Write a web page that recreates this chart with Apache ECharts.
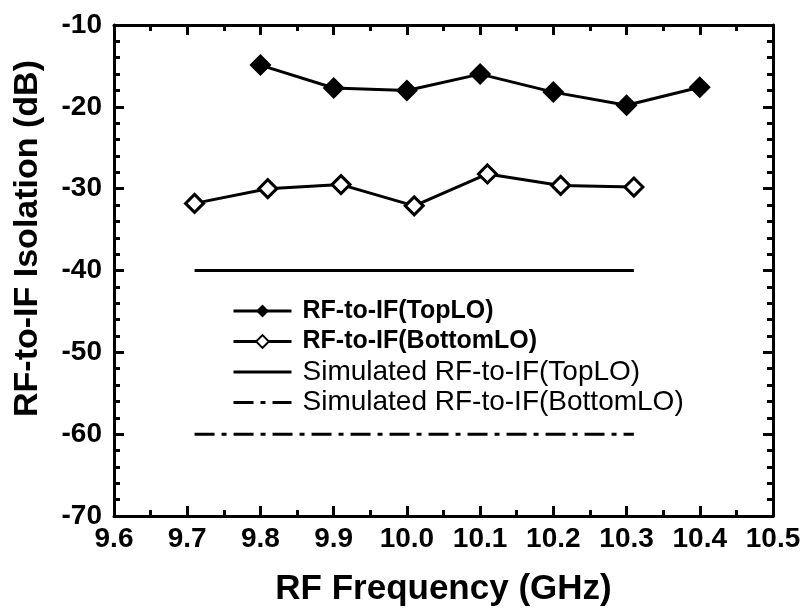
<!DOCTYPE html>
<html>
<head>
<meta charset="utf-8">
<script src="https://cdn.jsdelivr.net/npm/echarts@6/dist/echarts.min.js"></script>
<style>html,body{margin:0;padding:0;background:#fff}#c{width:805px;height:614px}</style>
</head>
<body>
<div id="c"></div>
<script>
var topLoX = [9.8, 9.9, 10.0, 10.1, 10.2, 10.3, 10.4];
var topLoY = [-14.9, -17.7, -18.0, -16.0, -18.2, -19.8, -17.6];
var bottomLoX = [9.71, 9.81, 9.91, 10.01, 10.11, 10.21, 10.31];
var bottomLoY = [-31.8, -30.0, -29.5, -32.1, -28.2, -29.6, -29.8];
var simTopX = [9.71, 10.31];
var simTopY = [-40, -40];
var simBottomX = [9.71, 10.31];
var simBottomY = [-60, -60];
var seriesNames = ['RF-to-IF(TopLO)', 'RF-to-IF(BottomLO)', 'Simulated RF-to-IF(TopLO)', 'Simulated RF-to-IF(BottomLO)'];
var xTitle = 'RF Frequency (GHz)';
var yTitle = 'RF-to-IF Isolation (dB)';

function pairs(xs, ys) { return xs.map(function (x, i) { return [x, ys[i]]; }); }

var FONT = '"Liberation Sans", Arial, sans-serif';
var axisLine = { show: true, lineStyle: { color: '#000', width: 3 } };
var tickStyle = { show: true, inside: true, length: 10, lineStyle: { color: '#000', width: 3 } };
var minorStyle = { show: true, length: 6, lineStyle: { color: '#000', width: 3 } };
var hidden = { color: 'rgba(0,0,0,0)', borderWidth: 0, opacity: 0 };

var chart = echarts.init(document.getElementById('c'), null, { renderer: 'canvas' });
chart.setOption({
  animation: false,
  backgroundColor: '#fff',
  grid: { left: 114, top: 25, width: 659, height: 491, containLabel: false },
  legend: {
    orient: 'vertical',
    left: 232,
    top: 296,
    padding: 0,
    itemGap: 0.5,
    itemWidth: 58,
    itemHeight: 16,
    lineStyle: { width: 3 },
    textStyle: { fontFamily: FONT, fontSize: 25, color: '#000', lineHeight: 30, padding: [0, 0, 0, 6] },
    data: [
      { name: seriesNames[0], textStyle: { fontWeight: 'bold' } },
      { name: seriesNames[1], textStyle: { fontWeight: 'bold' } },
      { name: seriesNames[2], itemStyle: hidden, textStyle: { fontWeight: 'normal', fontSize: 28 } },
      { name: seriesNames[3], itemStyle: hidden, textStyle: { fontWeight: 'normal', fontSize: 28 } }
    ]
  },
  xAxis: [{
    type: 'value', min: 9.6, max: 10.5, interval: 0.1, position: 'bottom',
    axisLine: axisLine, axisTick: tickStyle,
    minorTick: Object.assign({ splitNumber: 2 }, minorStyle),
    splitLine: { show: false },
    axisLabel: { fontFamily: FONT, fontSize: 28, fontWeight: 'bold', color: '#000', margin: 9,
      formatter: function (v) { return v.toFixed(1); } },
    name: xTitle, nameLocation: 'middle', nameGap: 56,
    nameTextStyle: { fontFamily: FONT, fontSize: 35, fontWeight: 'bold', color: '#000' }
  }, {
    type: 'value', min: 9.6, max: 10.5, interval: 0.1, position: 'top',
    axisLine: axisLine, axisTick: tickStyle,
    minorTick: Object.assign({ splitNumber: 2 }, minorStyle),
    splitLine: { show: false }, axisLabel: { show: false }
  }],
  yAxis: [{
    type: 'value', min: -70, max: -10, interval: 10, position: 'left',
    axisLine: axisLine, axisTick: tickStyle,
    minorTick: Object.assign({ splitNumber: 5 }, minorStyle),
    splitLine: { show: false },
    axisLabel: { fontFamily: FONT, fontSize: 28, fontWeight: 'bold', color: '#000', margin: 12 },
    name: yTitle, nameLocation: 'middle', nameGap: 69, nameRotate: 90,
    nameTextStyle: { fontFamily: FONT, fontSize: 34, fontWeight: 'bold', color: '#000', padding: [0, 0, 0, 64] }
  }, {
    type: 'value', min: -70, max: -10, interval: 10, position: 'right',
    axisLine: axisLine, axisTick: tickStyle,
    minorTick: Object.assign({ splitNumber: 5 }, minorStyle),
    splitLine: { show: false }, axisLabel: { show: false }
  }],
  series: [{
    name: seriesNames[0], type: 'line', data: pairs(topLoX, topLoY),
    symbol: 'diamond', symbolSize: 22,
    lineStyle: { color: '#000', width: 3 },
    itemStyle: { color: '#000', borderColor: '#000', borderWidth: 0 }
  }, {
    name: seriesNames[1], type: 'line', data: pairs(bottomLoX, bottomLoY),
    symbol: 'diamond', symbolSize: 18,
    lineStyle: { color: '#000', width: 3 },
    itemStyle: { color: '#fff', borderColor: '#000', borderWidth: 3 }
  }, {
    name: seriesNames[2], type: 'line', data: pairs(simTopX, simTopY),
    symbol: 'none', showSymbol: false,
    lineStyle: { color: '#000', width: 3 },
    itemStyle: { color: '#000' }
  }, {
    name: seriesNames[3], type: 'line', data: pairs(simBottomX, simBottomY),
    symbol: 'none', showSymbol: false,
    lineStyle: { color: '#000', width: 3, type: [20, 7, 5, 7] },
    itemStyle: { color: '#000' }
  }]
});
</script>
</body>
</html>
